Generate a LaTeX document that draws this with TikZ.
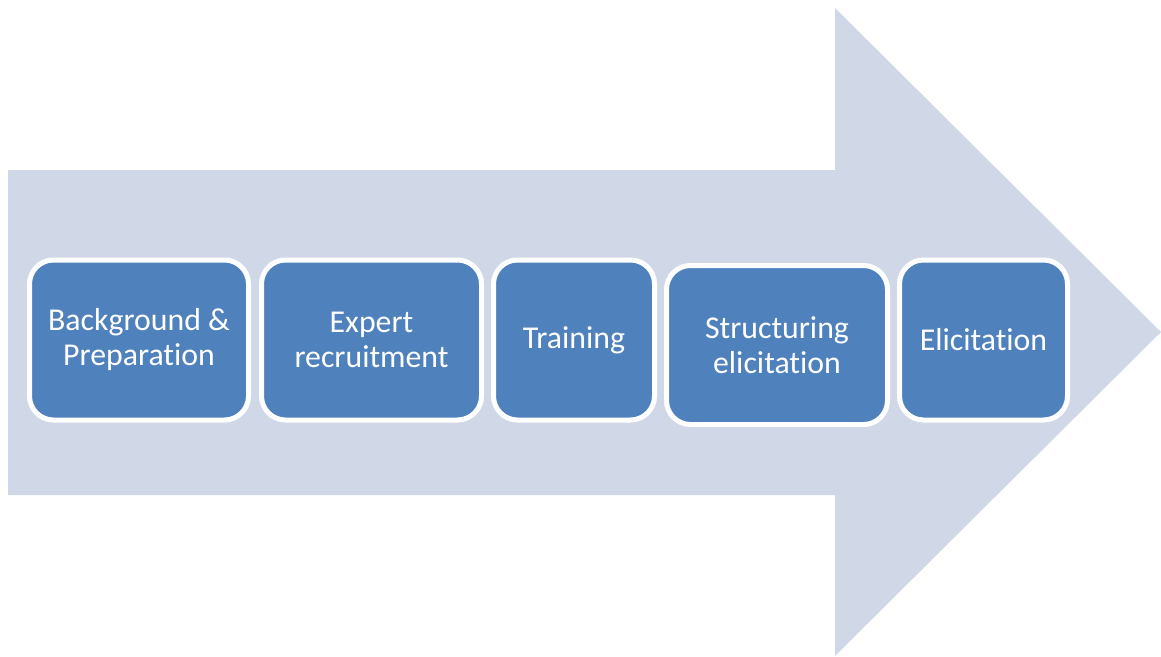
\documentclass[tikz,border=0pt]{standalone}
\usepackage{fontspec}
\setmainfont{Carlito}[RawFeature={-liga;-calt;-dlig;-clig}]
\usepackage{tikz}
\usetikzlibrary{calc}
\usepackage{xcolor}
\definecolor{arrowfill}{HTML}{D0D8E8}
\definecolor{stagefill}{HTML}{4F81BD}

\begin{document}
\begin{tikzpicture}[x=1pt, y=-1pt,
    stage/.style={draw=white, line width=5pt, fill=stagefill, rounded corners=24pt,
        text=white, align=center, minimum height=160pt,
        font=\fontsize{31.8}{35}\selectfont}]
    \useasboundingbox (0,0) rectangle (1161,656);
    % Pfeil
    \fill[arrowfill] (8,170) -- (835,170) -- (835,8) -- (1161,332) -- (835,656)
        -- (835,495) -- (8,495) -- cycle;
    % Schritte
    \node[stage, minimum width=219pt] (background) at (139,340) {Background \&\\Preparation};
    \node[stage, minimum width=220pt] (recruit) at (371.5,340) {Expert\\recruitment};
    \node[stage, minimum width=161pt] (training) at (574,340) {Training};
    \node[stage, minimum width=221pt, minimum height=159pt] (structuring) at (777,345) {Structuring\\elicitation};
    \node[stage, minimum width=168pt] (elicitation) at (983.5,340) {Elicitation};
\end{tikzpicture}
\end{document}
